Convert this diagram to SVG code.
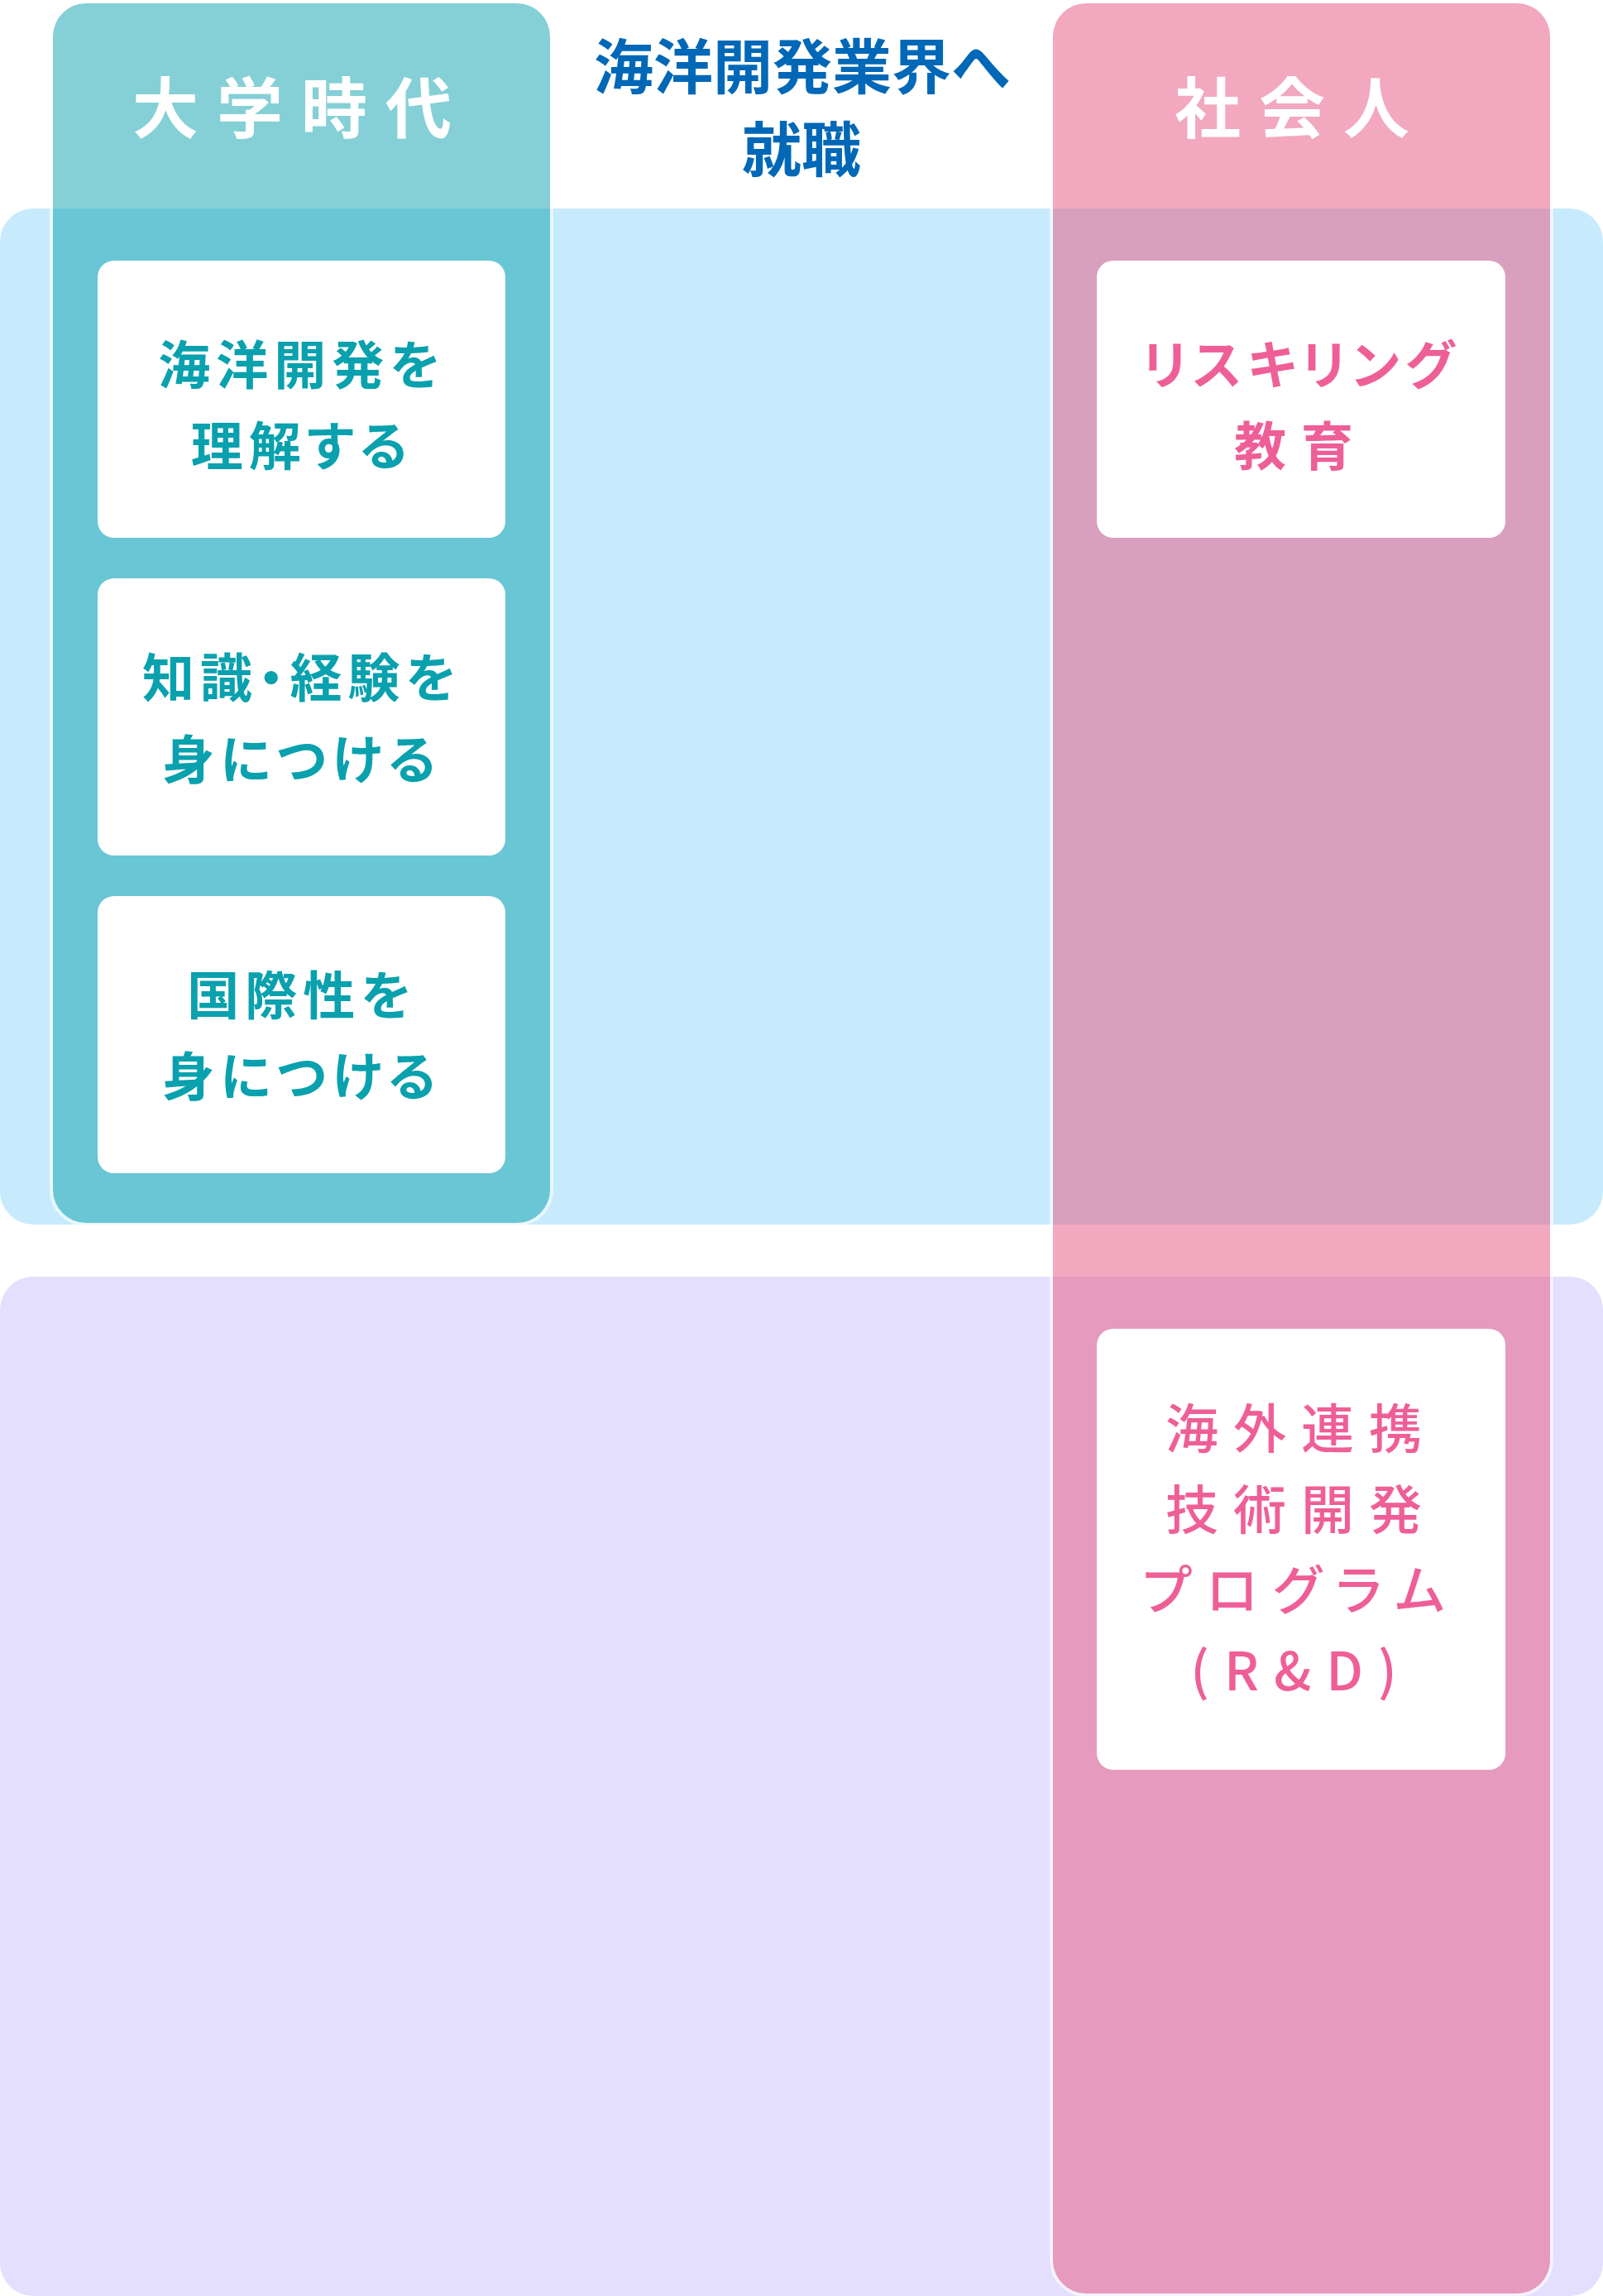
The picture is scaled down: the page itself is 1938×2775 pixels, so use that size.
<svg xmlns="http://www.w3.org/2000/svg" width="1938" height="2775" viewBox="0 0 1938 2775">
  <style>
    .jp { font-family: "Noto Sans CJK JP", "Noto Sans", "Liberation Sans", sans-serif; font-weight: 700; text-anchor: middle; font-feature-settings: "palt" 1; }
    .head { font-size: 80px; fill: #ffffff; letter-spacing: 22px; }
    .mid { font-size: 72px; fill: #0068b7; letter-spacing: 0px; }
    .teal { font-size: 63px; fill: #0aa1ae; letter-spacing: 7px; }
    .pink { font-size: 63px; fill: #ef5f97; letter-spacing: 7px; }
    .pinkL { font-size: 64px; fill: #ef5f97; letter-spacing: 18px; font-weight: 500; }
    .card { fill: #ffffff; }
    .colborder { fill: none; stroke: #ffffff; stroke-opacity: 0.6; stroke-width: 4; }
  </style>

  <rect x="0" y="0" width="1938" height="2775" fill="#ffffff"/>

  <g id="band-blue">
    <rect x="0" y="252" width="1938" height="1228" rx="40" ry="40" fill="#c7ebfd"/>
  </g>
  <g id="band-purple">
    <rect x="0" y="1543" width="1938" height="1232" rx="40" ry="40" fill="#e4dffd"/>
  </g>

  <g id="column-university">
    <rect class="colborder" x="62" y="2" width="605" height="1478" rx="42" ry="42"/>
    <rect x="64" y="4" width="601" height="1474" rx="40" ry="40" fill="#0ba1ad" fill-opacity="0.5"/>
    <text class="jp head" x="364" y="160">大学時代</text>
  </g>

  <g id="column-working">
    <rect class="colborder" x="1271" y="2" width="605" height="2772" rx="42" ry="42"/>
    <rect x="1273" y="4" width="601" height="2768" rx="40" ry="40" fill="#e8648d" fill-opacity="0.56"/>
    <text class="jp head" x="1573" y="160">社会人</text>
  </g>

  <g id="header-career">
    <text class="jp mid" x="969" y="107">海洋開発業界へ</text>
    <text class="jp mid" x="969" y="207">就職</text>
  </g>

  <g id="card-understand">
    <rect class="card" x="118" y="315" width="493" height="335" rx="20" ry="20"/>
    <text class="jp teal" x="365" y="464">海洋開発を</text>
    <text class="jp teal" x="365" y="562">理解する</text>
  </g>

  <g id="card-knowledge">
    <rect class="card" x="118" y="699" width="493" height="335" rx="20" ry="20"/>
    <text class="jp teal" x="365" y="842">知識・経験を</text>
    <text class="jp teal" x="365" y="941">身につける</text>
  </g>

  <g id="card-international">
    <rect class="card" x="118" y="1083" width="493" height="335" rx="20" ry="20"/>
    <text class="jp teal" x="365" y="1226">国際性を</text>
    <text class="jp teal" x="365" y="1324">身につける</text>
  </g>

  <g id="card-reskilling">
    <rect class="card" x="1326" y="315" width="494" height="335" rx="20" ry="20"/>
    <text class="jp pink" x="1573" y="464">リスキリング</text>
    <text class="jp pink" x="1573" y="562" style="letter-spacing:18px">教育</text>
  </g>

  <g id="card-rd">
    <rect class="card" x="1326" y="1606" width="494" height="533" rx="20" ry="20"/>
    <text class="jp pinkL" x="1573" y="1750">海外連携</text>
    <text class="jp pinkL" x="1573" y="1848">技術開発</text>
    <text class="jp pinkL" x="1573" y="1945">プログラム</text>
    <text class="jp pinkL" x="1573" y="2043">(R&amp;D)</text>
  </g>
</svg>
